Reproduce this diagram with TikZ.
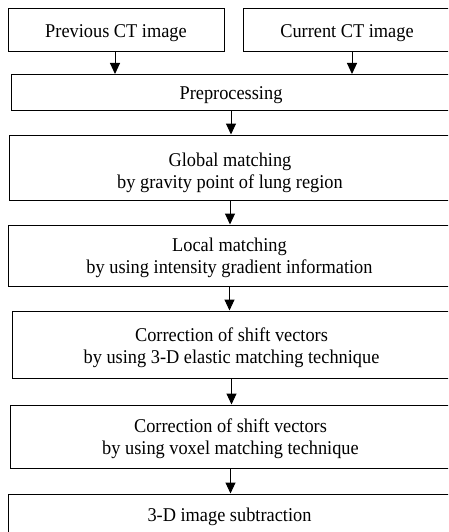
\documentclass[tikz,border=0pt]{standalone}
\usepackage{fontspec}
\setmainfont{Liberation Serif}[FakeStretch=0.94]
\usetikzlibrary{arrows.meta}
\begin{document}
\begin{tikzpicture}[x=1pt,y=-1pt,
  box/.style={draw, line width=1pt, inner sep=0pt},
  txt/.style={inner sep=0pt, align=center, font=\fontsize{19.5}{22}\selectfont},
  arr/.style={-{Triangle[length=11pt,width=10pt]}, line width=1pt}]
\useasboundingbox (0,0) rectangle (448,532);
\clip (0,0) rectangle (448,532);
\node[box, minimum width=216pt, minimum height=43pt,
  label={[txt,yshift=-3pt]center:{Previous CT image}}] (prev) at (116,30.5) {};
\node[box, minimum width=208pt, minimum height=43pt,
  label={[txt,yshift=-3pt]center:{Current CT image}}] (cur) at (347,30.5) {};
\node[box, minimum width=440pt, minimum height=36pt,
  label={[txt,yshift=-3pt]center:{Preprocessing}}] (pre) at (231,92.5) {};
\node[box, minimum width=442pt, minimum height=65pt,
  label={[txt,yshift=-5pt]center:{Global matching\\by gravity point of lung region}}] (glob) at (230,167.5) {};
\node[box, minimum width=443pt, minimum height=61pt,
  label={[txt,yshift=-2.5pt]center:{Local matching\\by using intensity gradient information}}] (loc) at (229.5,255.5) {};
\node[box, minimum width=439pt, minimum height=67pt,
  label={[txt,yshift=-3pt]center:{Correction of shift vectors\\by using 3-D elastic matching technique}}] (corr1) at (231.5,344.5) {};
\node[box, minimum width=441pt, minimum height=63pt,
  label={[txt,yshift=-2pt]center:{Correction of shift vectors\\by using voxel matching technique}}] (corr2) at (230.5,436.5) {};
\node[box, minimum width=443pt, minimum height=45pt,
  label={[txt]center:{3-D image subtraction}}] (sub) at (229.5,516.5) {};
\coordinate (c1) at ([xshift=-1pt]prev.south);
\coordinate (c2) at ([xshift=5pt]cur.south);
\draw[arr] (c1) -- (c1 |- pre.north);
\draw[arr] (c2) -- (c2 |- pre.north);
\draw[arr] (pre.south) -- (pre.south |- glob.north);
\draw[arr] (glob.south) -- (glob.south |- loc.north);
\draw[arr] (loc.south) -- (loc.south |- corr1.north);
\draw[arr] (corr1.south) -- (corr1.south |- corr2.north);
\draw[arr] (corr2.south) -- (corr2.south |- sub.north);
\end{tikzpicture}
\end{document}
